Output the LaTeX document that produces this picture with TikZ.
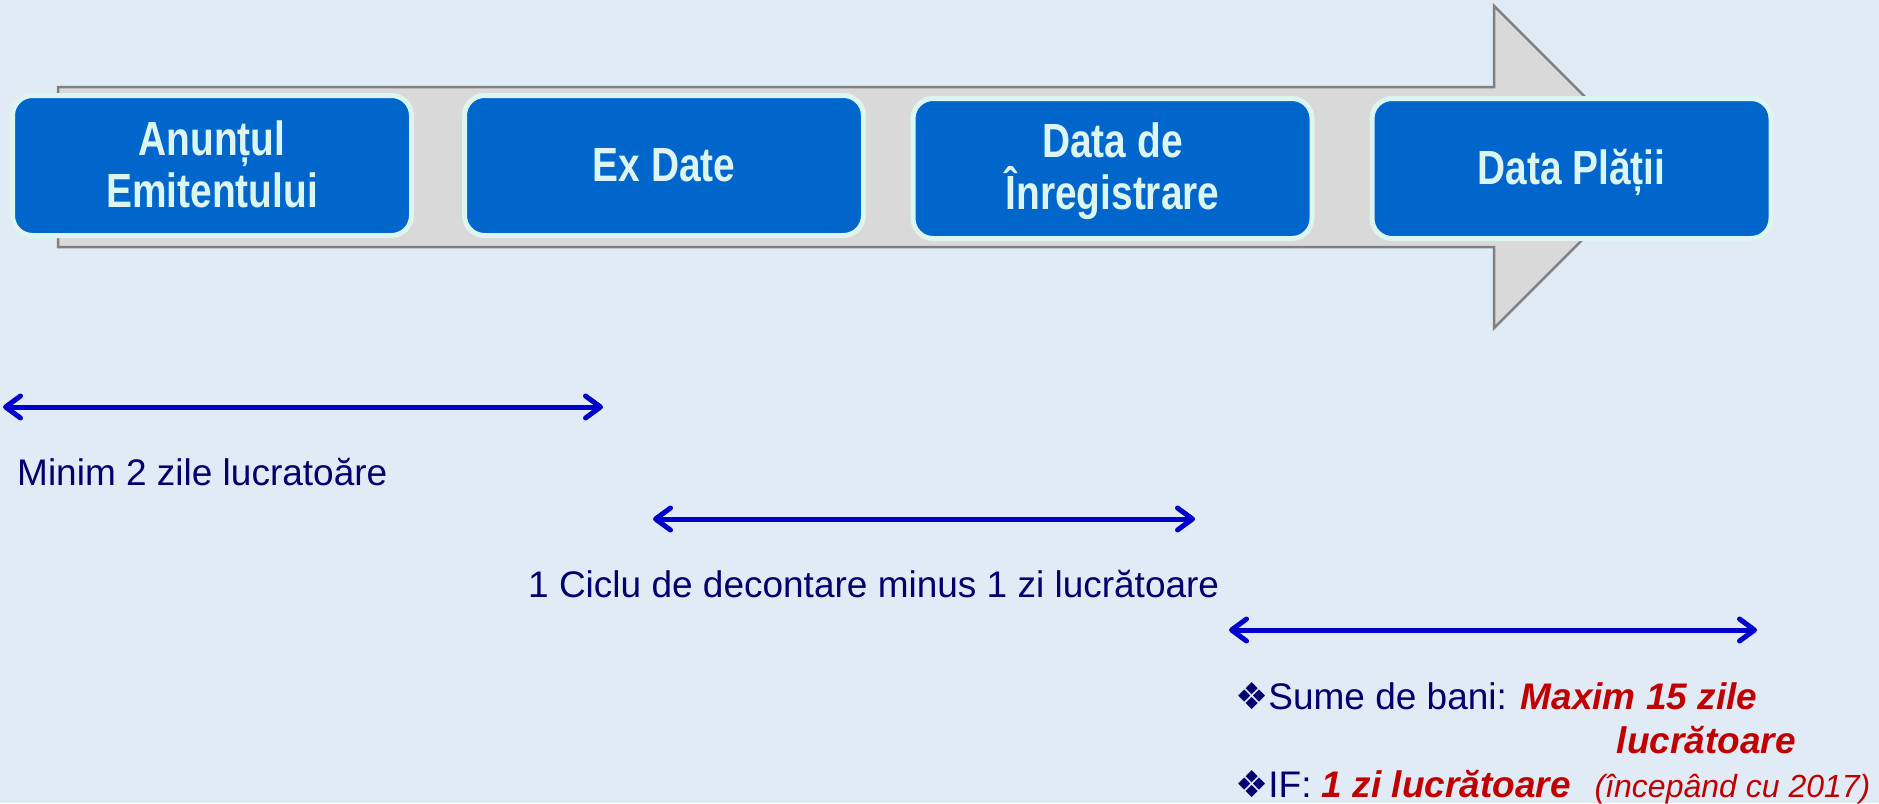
\documentclass[tikz,border=0pt]{standalone}
\usepackage{fontspec}
\setmainfont{Liberation Sans}
\newfontfamily\boxfont[FakeStretch=0.81]{Liberation Sans}
\newfontfamily\symfont{DejaVu Sans}
\usetikzlibrary{arrows.meta}
\definecolor{bgblue}{RGB}{224,235,245}
\definecolor{arrowgray}{RGB}{217,217,217}
\definecolor{edgegray}{RGB}{128,128,128}
\definecolor{boxblue}{RGB}{0,102,204}
\definecolor{boxedge}{RGB}{221,245,240}
\definecolor{dimblue}{RGB}{0,0,204}
\definecolor{navy}{RGB}{0,0,110}
\definecolor{darkred}{RGB}{192,0,0}
\tikzset{
  stagebox/.style={draw=boxedge, fill=boxblue, line width=5pt, rounded corners=20pt,
    minimum width=399pt, minimum height=140pt, inner sep=0pt},
  boxtext/.style={text=boxedge, font=\boxfont\bfseries\fontsize{48pt}{52pt}\selectfont, inner sep=0pt, anchor=base},
  dimline/.style={draw=dimblue, line width=5pt, line cap=round,
    {Straight Barb[length=15pt,width=22pt,line cap=round,line join=round]}-{Straight Barb[length=15pt,width=22pt,line cap=round,line join=round]}},
  note/.style={text=navy, font=\fontsize{37pt}{44pt}\selectfont, inner sep=0pt},
  rednote/.style={text=darkred, font=\bfseries\itshape\fontsize{37pt}{44pt}\selectfont, inner sep=0pt}
}
\begin{document}
\begin{tikzpicture}[x=1pt,y=-1pt]
\useasboundingbox (0,0) rectangle (1879,803);
\fill[bgblue] (0,0) rectangle (1879,803);
% big arrow
\draw[fill=arrowgray, draw=edgegray, line width=2.5pt, line join=miter]
  (58,87) -- (1494,87) -- (1494,6) -- (1655,167) -- (1494,328) -- (1494,247) -- (58,247) -- cycle;
% stage boxes
\node[stagebox] (b1) at (212,165.5) {};
\node[stagebox] (b2) at (664,165.5) {};
\node[stagebox] (b3) at (1112.5,168.5) {};
\node[stagebox] (b4) at (1571.5,168.5) {};
\node[boxtext] (t1a) at (212,155) {Anunțul};
\node[boxtext] (t1b) at (212,207) {Emitentului};
\node[boxtext] (t2) at (664,181) {Ex Date};
\node[boxtext] (t3a) at (1112.5,157) {Data de};
\node[boxtext] (t3b) at (1112.5,209) {Înregistrare};
\node[boxtext] (t4) at (1571.5,184) {Data Plății};
% dimension arrows
\coordinate (d1s) at (3,407);
\coordinate (d1e) at (603,407);
\coordinate (d2s) at (653,519);
\coordinate (d2e) at (1195,519);
\coordinate (d3s) at (1229,630);
\coordinate (d3e) at (1757,630);
\draw[dimline] (d1s) -- (d1e);
\draw[dimline] (d2s) -- (d2e);
\draw[dimline] (d3s) -- (d3e);
% notes
\node[note, anchor=base west] (n1) at (17,485) {Minim 2 zile lucratoăre};
\node[note, anchor=base west] (n2) at (528,597) {1 Ciclu de decontare minus 1 zi lucrătoare};
\node[note, anchor=base west] (n3) at (1235,709) {{\symfont ❖}Sume de bani: \textcolor{darkred}{\bfseries\itshape Maxim 15 zile}};
\node[rednote, anchor=base east] (n4) at (1796,753) {lucrătoare};
\node[note, anchor=base west] (n5) at (1235,797) {{\symfont ❖}IF: \textcolor{darkred}{\bfseries\itshape 1 zi lucrătoare}\hspace{24pt}\textcolor{darkred}{\itshape\fontsize{32pt}{38pt}\selectfont(începând cu 2017)}};
\end{tikzpicture}
\end{document}
